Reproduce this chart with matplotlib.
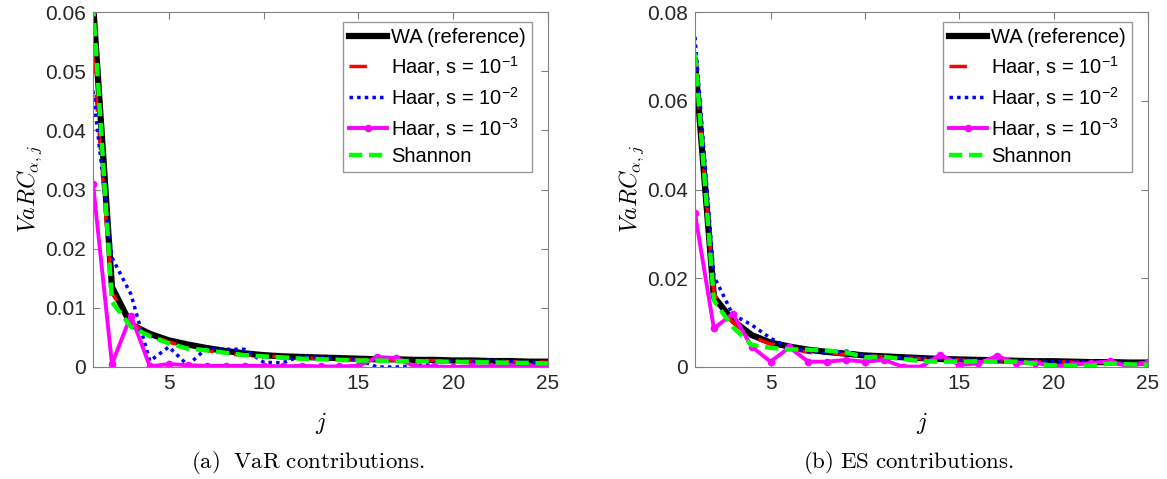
import numpy as np
import matplotlib
matplotlib.use('Agg')
import matplotlib.pyplot as plt
from matplotlib.font_manager import FontProperties

plt.rcParams['font.family'] = ['Liberation Sans', 'DejaVu Sans']
plt.rcParams['mathtext.fontset'] = 'cm'
plt.rcParams['mathtext.rm'] = 'Liberation Sans'

j = np.arange(1, 26)

# VaR contributions (panel a)
wa_var = [0.0615, 0.0135, 0.0072, 0.0056, 0.0045, 0.0038, 0.0032, 0.0027, 0.0023, 0.0020,
          0.0018, 0.0017, 0.0016, 0.0015, 0.0014, 0.0013, 0.0013, 0.0012, 0.0012, 0.0011,
          0.0011, 0.0010, 0.0010, 0.0009, 0.0009]
haar1_var = [0.0525, 0.0125, 0.0075, 0.0055, 0.0042, 0.0034, 0.0028, 0.0022, 0.0020, 0.0019,
             0.0017, 0.0016, 0.0014, 0.0013, 0.0013, 0.0012, 0.0011, 0.0011, 0.0011, 0.0010,
             0.0010, 0.0010, 0.0009, 0.0009, 0.0008]
haar2_var = [0.0467, 0.0185, 0.0123, 0.0010, 0.0034, 0.0003, 0.0032, 0.0030, 0.0030, 0.0008,
             0.0007, 0.0019, 0.0016, 0.0014, 0.0012, 0.0000, 0.0000, 0.0002, 0.0006, 0.0011,
             0.0008, 0.0012, 0.0009, 0.0008, 0.0007]
haar3_var = [0.0310, 0.0005, 0.0087, 0.0001, 0.0005, 0.0003, 0.0002, 0.0002, 0.0002, 0.0002,
             0.0001, 0.0002, 0.0001, 0.0001, 0.0002, 0.0017, 0.0015, 0.0001, 0.0001, 0.0000,
             0.0001, 0.0001, 0.0001, 0.0001, 0.0000]
shannon_var = [0.0615, 0.0110, 0.0068, 0.0052, 0.0040, 0.0031, 0.0028, 0.0024, 0.0020, 0.0018,
               0.0016, 0.0014, 0.0013, 0.0012, 0.0011, 0.0011, 0.0010, 0.0010, 0.0009, 0.0009,
               0.0008, 0.0008, 0.0007, 0.0007, 0.0006]

# ES contributions (panel b)
wa_es = [0.0690, 0.0158, 0.0105, 0.0072, 0.0055, 0.0046, 0.0039, 0.0034, 0.0030, 0.0026,
         0.0024, 0.0022, 0.0020, 0.0018, 0.0017, 0.0016, 0.0015, 0.0014, 0.0013, 0.0013,
         0.0012, 0.0011, 0.0011, 0.0010, 0.0010]
haar1_es = [0.0705, 0.0165, 0.0100, 0.0068, 0.0052, 0.0042, 0.0033, 0.0030, 0.0029, 0.0025,
            0.0023, 0.0021, 0.0019, 0.0018, 0.0016, 0.0015, 0.0014, 0.0013, 0.0012, 0.0012,
            0.0011, 0.0011, 0.0010, 0.0010, 0.0009]
haar2_es = [0.0744, 0.0205, 0.0118, 0.0095, 0.0065, 0.0043, 0.0035, 0.0031, 0.0036, 0.0026,
            0.0022, 0.0022, 0.0020, 0.0018, 0.0016, 0.0015, 0.0014, 0.0013, 0.0014, 0.0012,
            0.0011, 0.0012, 0.0010, 0.0010, 0.0009]
haar3_es = [0.0346, 0.0087, 0.0120, 0.0046, 0.0012, 0.0044, 0.0012, 0.0012, 0.0016, 0.0012,
            0.0016, 0.0001, 0.0001, 0.0028, 0.0005, 0.0008, 0.0025, 0.0009, 0.0010, 0.0002,
            0.0005, 0.0009, 0.0013, 0.0001, 0.0011]
shannon_es = [0.0707, 0.0150, 0.0090, 0.0050, 0.0043, 0.0040, 0.0039, 0.0037, 0.0033, 0.0022,
              0.0023, 0.0018, 0.0013, 0.0012, 0.0012, 0.0013, 0.0012, 0.0012, 0.0008, 0.0003,
              0.0003, 0.0003, 0.0008, 0.0006, 0.0005]

labels = ['WA (reference)', 'Haar, s = 10$^{-1}$', 'Haar, s = 10$^{-2}$',
          'Haar, s = 10$^{-3}$', 'Shannon']
captions = [r'$\mathrm{(a)\ \ VaR\ contributions.}$', r'$\mathrm{(b)\ ES\ contributions.}$']
caption_x = [308, 909]

fig = plt.figure(figsize=(11.67, 4.79), dpi=100)
ax1 = fig.add_axes([93/1167, 1-367/479, 455/1167, 355/479])
ax2 = fig.add_axes([695/1167, 1-367/479, 453/1167, 355/479])

panels = [(ax1, [wa_var, haar1_var, haar2_var, haar3_var, shannon_var], 0.06, 0.01),
          (ax2, [wa_es, haar1_es, haar2_es, haar3_es, shannon_es], 0.08, 0.02)]

for k, (ax, series, ymax, ystep) in enumerate(panels):
    wa, h1, h2, h3, sh = series
    ax.plot(j, wa, color='black', lw=4.5, label=labels[0])
    ax.plot(j, h1, color='red', lw=2.5, ls=(0, (5, 6)), label=labels[1])
    ax.plot(j, h2, color='blue', lw=2.5, ls=(0, (1, 1.2)), label=labels[2])
    ax.plot(j, h3, color='magenta', lw=2.8, marker='o', ms=4.5, label=labels[3])
    ax.plot(j, sh, color='#00ff00', lw=3.2, ls=(0, (3, 1.5)), label=labels[4])
    ax.set_xlim(1, 25)
    ax.set_ylim(0, ymax)
    ax.set_xticks([5, 10, 15, 20, 25])
    ax.set_yticks(np.arange(0, ymax + ystep/2, ystep))
    ax.set_yticklabels(['0'] + ['%g' % v for v in np.arange(ystep, ymax + ystep/2, ystep)])
    ax.tick_params(direction='in', top=True, right=True, labelsize=15,
                   colors='0.5', labelcolor='#262626', length=5, pad=5)
    for s in ax.spines.values():
        s.set_color('0.5')
    ax.set_xlabel('$j$', fontsize=17, labelpad=12)
    ax.set_ylabel(r'$VaRC_{\alpha,j}$', fontsize=17, labelpad=1)
    leg = ax.legend(loc='upper right', bbox_to_anchor=(1 - 16/455, 1 - 10/355),
                    borderaxespad=0, fancybox=False, handlelength=1.9,
                    handletextpad=0.2, borderpad=0.3, labelspacing=0.35,
                    prop=FontProperties(family='Liberation Sans', size=14.5,
                                        math_fontfamily='custom'))
    leg.get_frame().set_edgecolor('0.5')
    leg.get_frame().set_linewidth(1)
    fig.text(caption_x[k] / 1167, 1 - 462/479, captions[k], ha='center', va='center',
             fontsize=16.5)

fig.savefig('out.png', dpi=100)
